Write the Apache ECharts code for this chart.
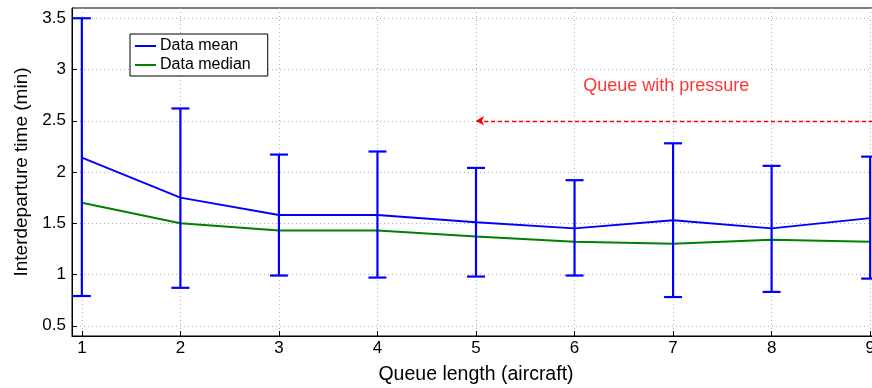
<!DOCTYPE html>
<html>
<head>
<meta charset="utf-8">
<script src="https://cdn.jsdelivr.net/npm/echarts@6/dist/echarts.min.js"></script>
<style>
  html, body { margin: 0; padding: 0; background: #fff; }
  #chart { width: 872px; height: 388px; }
</style>
</head>
<body>
<div id="chart"></div>
<script>
// queue lengths and the measured values
const queueLen = [1, 2, 3, 4, 5, 6, 7, 8, 9]
const meanVals = [2.14, 1.75, 1.58, 1.58, 1.51, 1.45, 1.53, 1.45, 1.55]
const medianVals = [1.70, 1.50, 1.43, 1.43, 1.37, 1.32, 1.30, 1.34, 1.32]
const errLow = [0.79, 0.87, 0.99, 0.97, 0.98, 0.99, 0.78, 0.83, 0.96]
const errHigh = [3.50, 2.62, 2.17, 2.20, 2.04, 1.92, 2.28, 2.06, 2.15]
const yTicks = [0.5, 1, 1.5, 2, 2.5, 3, 3.5]

// annotation
const arrowFrom = 9.1
const arrowTo = 5
const arrowY = 2.5
const noteText = 'Queue with pressure'
const notePos = [6.93, 2.84]

const font = '"Liberation Sans", Arial, sans-serif'
const chart = echarts.init(document.getElementById('chart'))

chart.setOption({
  animation: false,
  grid: {
    left: 72, top: 8, bottom: 52, right: -8,
    outerBoundsMode: 'none',
    show: true, borderColor: '#000', borderWidth: 1
  },
  legend: {
    data: ['Data mean', 'Data median'],
    orient: 'vertical',
    left: 130, top: 34,
    padding: [4, 17, 3, 5],
    itemGap: 3,
    itemWidth: 21, itemHeight: 2,
    icon: 'rect',
    borderColor: '#000', borderWidth: 1,
    backgroundColor: '#fff',
    textStyle: { fontFamily: font, fontSize: 16, color: '#000', padding: [0, 0, 0, -1] }
  },
  xAxis: {
    type: 'value',
    min: 0.9, max: 9.1,
    name: 'Queue length (aircraft)',
    nameLocation: 'middle', nameGap: 29,
    nameTextStyle: { fontFamily: font, fontSize: 19.5, color: '#000' },
    axisLine: { onZero: false, lineStyle: { color: '#000', width: 1 } },
    axisTick: { inside: true, length: 5, lineStyle: { color: '#000' }, customValues: queueLen },
    axisLabel: {
      fontFamily: font, fontSize: 17, color: '#000', margin: 4,
      customValues: queueLen
    },
    splitLine: { show: true, lineStyle: { color: '#b0b0b0', type: [1, 3] } }
  },
  yAxis: {
    type: 'value',
    min: 0.4, max: 3.6,
    name: 'Interdeparture time (min)',
    nameLocation: 'middle', nameGap: 39, nameRotate: 90,
    nameTextStyle: { fontFamily: font, fontSize: 19, color: '#000' },
    axisLine: { show: true, onZero: false, lineStyle: { color: '#000', width: 1 } },
    axisTick: { inside: true, length: 5, lineStyle: { color: '#000' }, customValues: yTicks },
    axisLabel: {
      fontFamily: font, fontSize: 17, color: '#000', margin: 6,
      customValues: yTicks
    },
    splitLine: { show: true, lineStyle: { color: '#b0b0b0', type: [1, 3] } }
  },
  series: [
    {
      name: 'Data median',
      type: 'line',
      data: queueLen.map((x, i) => [x, medianVals[i]]),
      showSymbol: false,
      lineStyle: { color: '#008000', width: 2 },
      itemStyle: { color: '#008000' },
      z: 2
    },
    {
      name: 'Data mean',
      type: 'line',
      data: queueLen.map((x, i) => [x, meanVals[i]]),
      showSymbol: false,
      lineStyle: { color: '#0000ff', width: 2 },
      itemStyle: { color: '#0000ff' },
      z: 3,
      markLine: {
        silent: true,
        symbol: ['none', 'arrow'],
        symbolSize: [7, 8],
        label: { show: false },
        lineStyle: { color: '#ff0000', type: [4, 3], width: 1.3 },
        data: [[{ coord: [arrowFrom, arrowY] }, { coord: [arrowTo, arrowY] }]]
      }
    },
    {
      name: 'err',
      type: 'custom',
      data: queueLen.map((x, i) => [x, errLow[i], errHigh[i]]),
      z: 4,
      renderItem: (params, api) => {
        const lo = api.coord([api.value(0), api.value(1)])
        const hi = api.coord([api.value(0), api.value(2)])
        const w = 9
        const style = { stroke: '#0000ff', lineWidth: 2.2 }
        return {
          type: 'group',
          children: [
            { type: 'line', shape: { x1: lo[0], y1: lo[1], x2: hi[0], y2: hi[1] }, style },
            { type: 'line', shape: { x1: lo[0] - w, y1: lo[1], x2: lo[0] + w, y2: lo[1] }, style },
            { type: 'line', shape: { x1: hi[0] - w, y1: hi[1], x2: hi[0] + w, y2: hi[1] }, style }
          ]
        }
      }
    },
    {
      name: 'note',
      type: 'scatter',
      data: [notePos],
      symbolSize: 0,
      silent: true,
      label: {
        show: true, position: 'inside', formatter: noteText,
        fontFamily: font, fontSize: 18, color: '#ff0000'
      }
    }
  ]
})
</script>
</body>
</html>
